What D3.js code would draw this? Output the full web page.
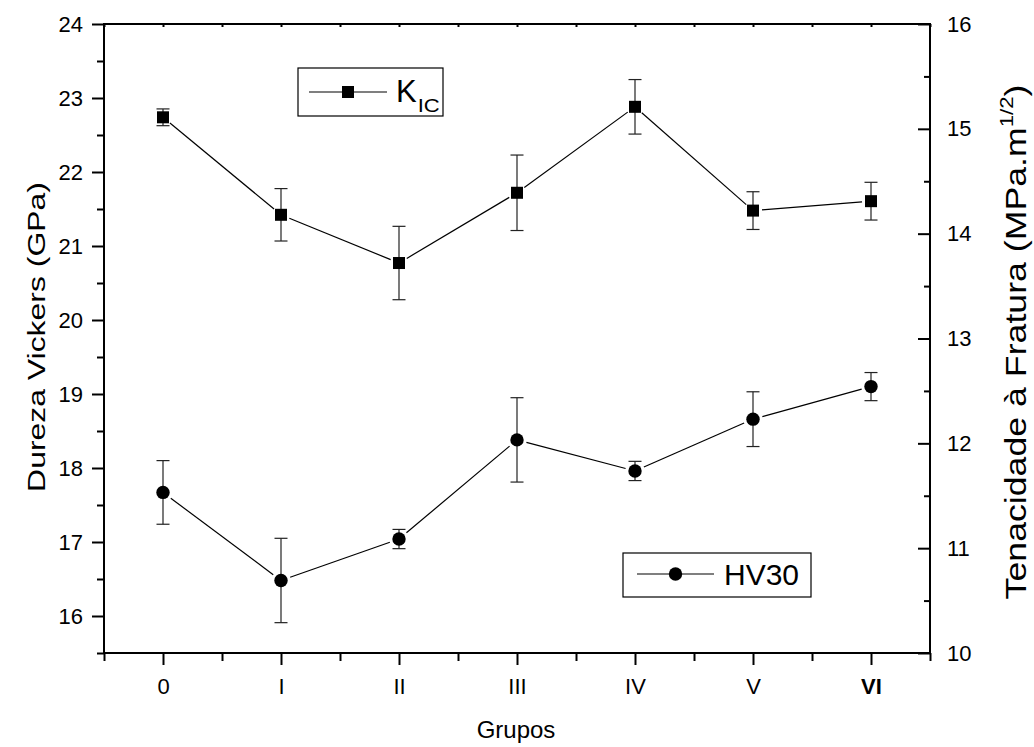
<!DOCTYPE html>
<meta charset="utf-8">
<style>
body { margin: 0; background: #fff; }
text { font-family: Arial, "Liberation Sans", sans-serif; fill: #000; }
.axis path { display: none; }
.axis line { stroke: #000; stroke-width: 2px; }
</style>
<svg width="1034" height="747"></svg>
<script src="https://cdn.jsdelivr.net/npm/d3@7"></script>
<script>

var groups = ["0", "I", "II", "III", "IV", "V", "VI"];
var kic = [15.11, 14.18, 13.72, 14.39, 15.21, 14.22, 14.31];
var kicErr = [0.08, 0.25, 0.35, 0.36, 0.26, 0.18, 0.18];
var hv30 = [17.67, 16.48, 17.04, 18.38, 17.96, 18.66, 19.10];
var hv30Err = [0.43, 0.57, 0.13, 0.57, 0.13, 0.37, 0.19];

var leftTicks = [16, 17, 18, 19, 20, 21, 22, 23, 24];
var rightTicks = [10, 11, 12, 13, 14, 15, 16];

var svg = d3.select("svg");

var pLeft = 104, pRight = 930, pTop = 24, pBottom = 653;

var x = d3.scaleLinear().domain([-0.5, 6.5]).range([pLeft, pRight]);
var yL = d3.scaleLinear().domain([15.5, 24]).range([pBottom, pTop]);
var yR = d3.scaleLinear().domain([10, 16]).range([pBottom, pTop]);

function styleAxis(g) {
  g.attr("font-family", null).attr("font-size", null);
  g.selectAll("text").style("font-size", "22px")
    .style("font-family", "Arial, 'Liberation Sans', sans-serif");
}

// frame
svg.append("rect")
    .attr("x", pLeft).attr("y", pTop)
    .attr("width", pRight - pLeft).attr("height", pBottom - pTop)
    .attr("fill", "none").attr("stroke", "#000").attr("stroke-width", 2);

// left axis
svg.append("g").attr("class", "axis")
    .attr("transform", "translate(" + pLeft + ",0)")
    .call(d3.axisLeft(yL).tickValues(leftTicks).tickFormat(d3.format("d"))
      .tickSize(12).tickSizeOuter(0).tickPadding(9))
    .call(styleAxis);
svg.append("g").attr("class", "axis")
    .attr("transform", "translate(" + pLeft + ",0)")
    .call(d3.axisLeft(yL).tickValues(d3.range(15.5, 24, 1)).tickFormat("")
      .tickSize(7).tickSizeOuter(0));

// right axis (ticks inward)
svg.append("g").attr("class", "axis")
    .attr("transform", "translate(" + pRight + ",0)")
    .call(d3.axisRight(yR).tickValues(rightTicks).tickFormat(d3.format("d"))
      .tickSizeInner(-12).tickSizeOuter(0).tickPadding(17))
    .call(styleAxis);
svg.append("g").attr("class", "axis")
    .attr("transform", "translate(" + pRight + ",0)")
    .call(d3.axisRight(yR).tickValues(d3.range(10.5, 16, 1)).tickFormat("")
      .tickSizeInner(-6).tickSizeOuter(0));

// bottom axis
svg.append("g").attr("class", "axis")
    .attr("transform", "translate(0," + pBottom + ")")
    .call(d3.axisBottom(x).tickValues(d3.range(0, 7)).tickFormat(function(d) { return groups[d]; })
      .tickSize(12).tickSizeOuter(0).tickPadding(13))
    .call(styleAxis)
  .selectAll("text")
    .style("font-weight", function(d) { return groups[d] === "VI" ? "bold" : "normal"; });
svg.append("g").attr("class", "axis")
    .attr("transform", "translate(0," + pBottom + ")")
    .call(d3.axisBottom(x).tickValues(d3.range(-0.5, 7, 1)).tickFormat("")
      .tickSize(8).tickSizeOuter(0));

// top axis small inward ticks
svg.append("g").attr("class", "axis")
    .attr("transform", "translate(0," + pTop + ")")
    .call(d3.axisTop(x).tickValues(d3.range(-0.5, 7, 0.5)).tickFormat("")
      .tickSizeInner(-3).tickSizeOuter(0));

// axis titles
var lt = svg.append("text")
    .attr("text-anchor", "middle")
    .style("font-size", "24px")
    .text("Dureza Vickers (GPa)");
var s1 = 310 / lt.node().getComputedTextLength();
lt.attr("transform", "translate(45,337) rotate(-90) scale(" + s1 + ",1)");

var rt = svg.append("text")
    .attr("text-anchor", "middle")
    .style("font-size", "29px");
rt.append("tspan").text("Tenacidade à Fratura (MPa.m");
rt.append("tspan").attr("dy", -13).style("font-size", "18px").text("1/2");
rt.append("tspan").attr("dy", 13).text(")");
var s2 = 515 / rt.node().getBBox().width;
rt.attr("transform", "translate(1026,342) rotate(-90) scale(" + s2 + ",1)");

svg.append("text")
    .attr("x", (pLeft + pRight) / 2 - 1).attr("y", 738)
    .attr("text-anchor", "middle")
    .style("font-size", "24px")
    .text("Grupos");

// series drawing
function drawSeries(vals, errs, y, marker, size) {
  var pts = vals.map(function(v, i) { return [x(i), y(v)]; });
  var gap = size / 2 + 3;

  // connecting segments, stopped short of markers
  for (var i = 0; i < pts.length - 1; i++) {
    var a = pts[i], b = pts[i + 1];
    var dx = b[0] - a[0], dy = b[1] - a[1], L = Math.sqrt(dx * dx + dy * dy);
    var ux = dx / L, uy = dy / L;
    svg.append("line")
      .attr("x1", a[0] + ux * gap).attr("y1", a[1] + uy * gap)
      .attr("x2", b[0] - ux * gap).attr("y2", b[1] - uy * gap)
      .attr("stroke", "#000").attr("stroke-width", 1.2);
  }

  var eb = svg.append("g").attr("stroke", "#222").attr("stroke-width", 1.2);
  vals.forEach(function(v, i) {
    var cx = x(i), y1 = y(v - errs[i]), y2 = y(v + errs[i]);
    eb.append("line").attr("x1", cx).attr("x2", cx).attr("y1", y1).attr("y2", y2);
    eb.append("line").attr("x1", cx - 6.5).attr("x2", cx + 6.5).attr("y1", y1).attr("y2", y1);
    eb.append("line").attr("x1", cx - 6.5).attr("x2", cx + 6.5).attr("y1", y2).attr("y2", y2);
  });

  pts.forEach(function(p) { marker(p[0], p[1]); });
}

function square(cx, cy) {
  svg.append("rect").attr("x", cx - 6).attr("y", cy - 6)
    .attr("width", 12).attr("height", 12).attr("fill", "#000");
}
function circle(cx, cy) {
  svg.append("circle").attr("cx", cx).attr("cy", cy).attr("r", 6.7).attr("fill", "#000");
}

drawSeries(kic, kicErr, yR, square, 12);
drawSeries(hv30, hv30Err, yL, circle, 13.4);

// legends
svg.append("rect").attr("x", 298).attr("y", 68).attr("width", 145).attr("height", 48)
  .attr("fill", "none").attr("stroke", "#000").attr("stroke-width", 1.2);
svg.append("line").attr("x1", 309).attr("x2", 387).attr("y1", 92).attr("y2", 92)
  .attr("stroke", "#000").attr("stroke-width", 1.2);
square(348, 92);
var kt = svg.append("text").attr("x", 396).attr("y", 102).style("font-size", "31px");
kt.append("tspan").text("K");
kt.append("tspan").attr("dy", 10).attr("dx", 1).style("font-size", "19px")
  .attr("textLength", 22).attr("lengthAdjust", "spacingAndGlyphs").text("IC");

svg.append("rect").attr("x", 623).attr("y", 553).attr("width", 188).attr("height", 44)
  .attr("fill", "none").attr("stroke", "#000").attr("stroke-width", 1.2);
svg.append("line").attr("x1", 637).attr("x2", 714).attr("y1", 574).attr("y2", 574)
  .attr("stroke", "#000").attr("stroke-width", 1.2);
circle(675.5, 574);
svg.append("text").attr("x", 724).attr("y", 585).style("font-size", "30px").text("HV30");

</script>
